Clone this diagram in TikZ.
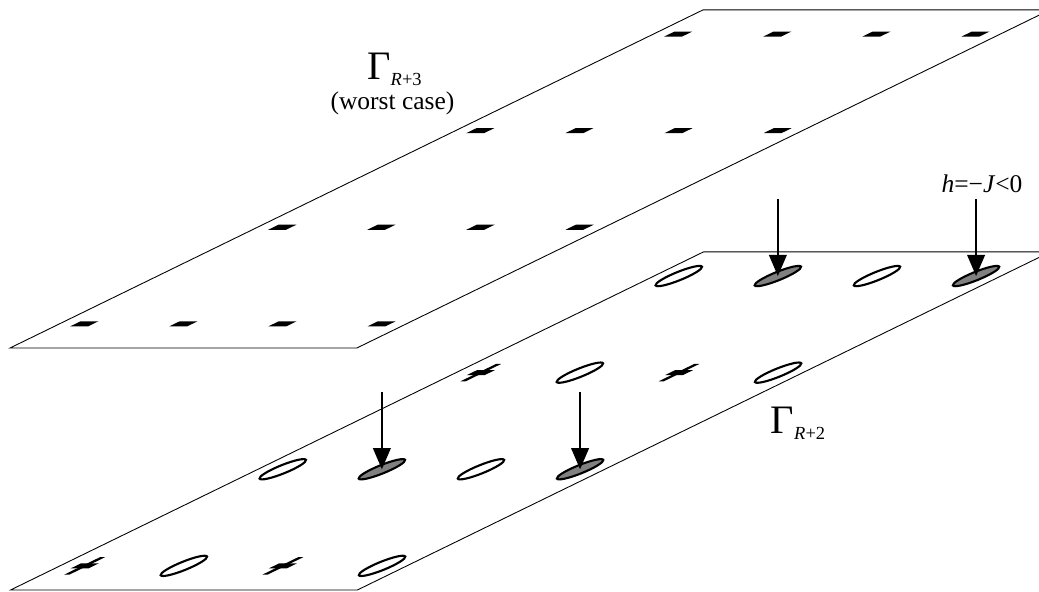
\documentclass[tikz,border=0pt]{standalone}
\usepackage{fontspec}
\setmainfont{Liberation Serif}
\usetikzlibrary{arrows.meta}

\newcommand{\gammalayer}[1]{{\fontsize{23}{23}\selectfont Γ}\raisebox{-3.5pt}{\fontsize{10.5}{10.5}\selectfont\textit{R}+#1}}

\begin{document}
\begin{tikzpicture}[
    plane/.style={line width=0.5pt},
    minus/.style={rectangle, fill=black, inner sep=0pt, minimum width=0.18cm, minimum height=0.052cm},
    bar/.style={rectangle, fill=black, inner sep=0pt, minimum width=0.052cm, minimum height=0.18cm},
    site/.style={circle, draw, line width=1.2pt, inner sep=0pt, minimum size=0.21cm},
    field/.style={site, fill=black!50},
    arrow/.style={-{Triangle[length=12pt,width=10pt]}, line width=1.1pt},
    tag/.style={font=\fontsize{14.5}{17}\selectfont, inner sep=0pt}
]
\clip (0,0) rectangle (20.78,11.82);

% Upper layer (worst case): all spins down
\begin{scope}[cm={1.982,0,3.96,1.932,(0.2,4.86)}, transform shape]
\draw[plane] (0,0) -- (3.5,0) -- (3.5,3.5) -- (0,3.5) -- cycle;
\node[minus] (t00) at (0.25,0.25) {};
\node[minus] (t10) at (1.25,0.25) {};
\node[minus] (t20) at (2.25,0.25) {};
\node[minus] (t30) at (3.25,0.25) {};
\node[minus] (t01) at (0.25,1.25) {};
\node[minus] (t11) at (1.25,1.25) {};
\node[minus] (t21) at (2.25,1.25) {};
\node[minus] (t31) at (3.25,1.25) {};
\node[minus] (t02) at (0.25,2.25) {};
\node[minus] (t12) at (1.25,2.25) {};
\node[minus] (t22) at (2.25,2.25) {};
\node[minus] (t32) at (3.25,2.25) {};
\node[minus] (t03) at (0.25,3.25) {};
\node[minus] (t13) at (1.25,3.25) {};
\node[minus] (t23) at (2.25,3.25) {};
\node[minus] (t33) at (3.25,3.25) {};
\end{scope}

% Lower layer: plus spins, free sites and sites with a field
\begin{scope}[cm={1.982,0,3.96,1.932,(0.21,0.02)}, transform shape]
\draw[plane] (0,0) -- (3.5,0) -- (3.5,3.5) -- (0,3.5) -- cycle;
\node[minus] (b00) at (0.25,0.25) {};
\node[bar] (b00v) at (0.25,0.25) {};
\node[site] (b10) at (1.25,0.25) {};
\node[minus] (b20) at (2.25,0.25) {};
\node[bar] (b20v) at (2.25,0.25) {};
\node[site] (b30) at (3.25,0.25) {};
\node[site] (b01) at (0.25,1.25) {};
\node[field] (b11) at (1.25,1.25) {};
\node[site] (b21) at (2.25,1.25) {};
\node[field] (b31) at (3.25,1.25) {};
\node[minus] (b02) at (0.25,2.25) {};
\node[bar] (b02v) at (0.25,2.25) {};
\node[site] (b12) at (1.25,2.25) {};
\node[minus] (b22) at (2.25,2.25) {};
\node[bar] (b22v) at (2.25,2.25) {};
\node[site] (b32) at (3.25,2.25) {};
\node[site] (b03) at (0.25,3.25) {};
\node[field] (b13) at (1.25,3.25) {};
\node[site] (b23) at (2.25,3.25) {};
\node[field] (b33) at (3.25,3.25) {};
\end{scope}

% Field arrows
\draw[arrow] ([yshift=1.54cm]b11.center) -- (b11.center);
\draw[arrow] ([yshift=1.54cm]b31.center) -- (b31.center);
\draw[arrow] ([yshift=1.54cm]b13.center) -- (b13.center);
\draw[arrow] ([yshift=1.54cm]b33.center) -- (b33.center);

% Labels
\node[anchor=base] (upper) at (7.89,10.24) {\gammalayer{3}};
\node[tag, anchor=base] (worst) at (7.85,9.64) {(worst case)};
\node[anchor=base] (lower) at (15.96,3.16) {\gammalayer{2}};
\node[tag, anchor=base] (hlabel) at (19.64,7.98) {\textit{h}=−\textit{J}<0};

\end{tikzpicture}
\end{document}
